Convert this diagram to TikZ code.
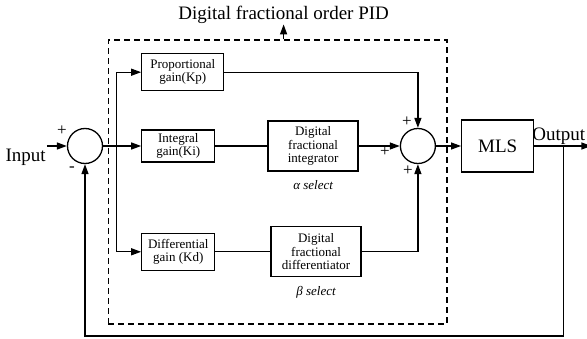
\documentclass[tikz,border=0pt]{standalone}
\usepackage{fontspec}
\setmainfont{Liberation Serif}
\usetikzlibrary{arrows.meta, positioning, calc, fit, backgrounds}

\begin{document}
\begin{tikzpicture}[
  block/.style = {
    draw,
    line width=1.3pt,
    align=center,
    inner sep=2pt,
    font=\fontsize{13}{13.3}\selectfont
  },
  sumnode/.style = {
    draw,
    circle,
    line width=1.3pt,
    minimum size=35pt,
    inner sep=0pt
  },
  wrapper/.style = {
    draw,
    line width=1.3pt,
    dash pattern=on 6pt off 4pt,
    inner sep=0pt
  },
  sign/.style = {font=\fontsize{17}{17}\selectfont, inner sep=0pt},
  note/.style = {font=\fontsize{13}{13}\selectfont\itshape},
  big/.style = {font=\fontsize{19}{19}\selectfont},
  wire/.style = {line width=1.3pt},
  arrow/.style = {line width=1.3pt, -{Triangle[length=10pt,width=7pt]}}
]
\useasboundingbox (0,0) rectangle (587pt,-339pt);

% ======================================================
% CONTROLLER BLOCKS
% ======================================================

\node[sumnode] (sum1) at (85pt,-146pt) {};

\node[block, minimum width=73pt, minimum height=32pt, right=38pt of sum1] (ki) {Integral\\gain(Ki)};
\node[block, minimum width=82pt, minimum height=37pt, above right=38pt and 0pt of ki.north west] (kp) {Proportional\\gain(Kp)};
\node[block, minimum width=73pt, minimum height=37pt, below right=70pt and 0pt of ki.south west] (kd) {Differential\\gain (Kd)};

\node[block, minimum width=90pt, minimum height=50pt, right=52pt of ki] (integ) {Digital\\fractional\\integrator};
\node[block, minimum width=90pt, minimum height=50pt, right=55pt of kd] (diff) {Digital\\fractional\\differentiator};

\node[note, below=5pt of integ] (alpha) {α select};
\node[note, below=5pt of diff] (beta) {β select};

\node[sumnode, right=41pt of integ] (sum2) {};
\node[block, big, minimum width=72pt, minimum height=52pt, right=25pt of sum2] (mls) {MLS};

% ---- Signs ----
\node[sign] (s1a) at ($(sum1)+(-23pt,15pt)$) {+};
\node[sign] (s1b) at ($(sum1)+(-13pt,-23pt)$) {-};
\node[sign] (s2a) at ($(sum2)+(-11pt,24pt)$) {+};
\node[sign] (s2b) at ($(sum2)+(-33pt,-6pt)$) {+};
\node[sign] (s2c) at ($(sum2)+(-10pt,-25pt)$) {+};

% ---- Arrows ----
\coordinate (inpt) at ($(sum1.west)+(-20pt,0)$);
\node[big, anchor=north east, inner sep=1pt, yshift=-2pt] (inlabel) at (inpt) {Input};
\draw[arrow] (inpt) -- (sum1.west);

\coordinate (split) at ($(sum1.east)+(13pt,0)$);
\draw[arrow] (sum1.east) -- (ki.west);
\draw[arrow] (split) |- (kp.west);
\draw[arrow] (split) |- (kd.west);

\draw[wire] (ki.east) -- (integ.west);
\draw[wire] (kd.east) -- (diff.west);
\draw[arrow] (kp.east) -| (sum2.north);
\draw[arrow] (integ.east) -- (sum2.west);
\draw[arrow] (diff.east) -| (sum2.south);
\draw[arrow] (sum2.east) -- (mls.west);

\coordinate (outpt) at ($(mls.east)+(57pt,0)$);
\draw[arrow] (mls.east) -- node[big, above, inner sep=1pt, xshift=-4pt] {Output} (outpt);

% feedback
\coordinate (fbsplit) at ($(mls.east)+(29pt,0)$);
\coordinate (fbbottom) at ($(fbsplit)+(0,-190pt)$);
\draw[arrow] (fbsplit) -- (fbbottom) -| (sum1.south);

% ---- Wrapper ----
\coordinate (boxnw) at ($(kp.north west)+(-33pt,13pt)$);
\coordinate (boxse) at ($(sum2.east |- kd.south)+(11pt,-53pt)$);
\begin{scope}[on background layer]
  \node[wrapper, fit=(boxnw)(boxse)] (pid) {};
\end{scope}

\node[big, above=15pt of pid.north, xshift=6pt, inner sep=1pt] (title) {Digital fractional order PID};
\draw[arrow] (title.south |- pid.north) -- (title.south);

\end{tikzpicture}
\end{document}
